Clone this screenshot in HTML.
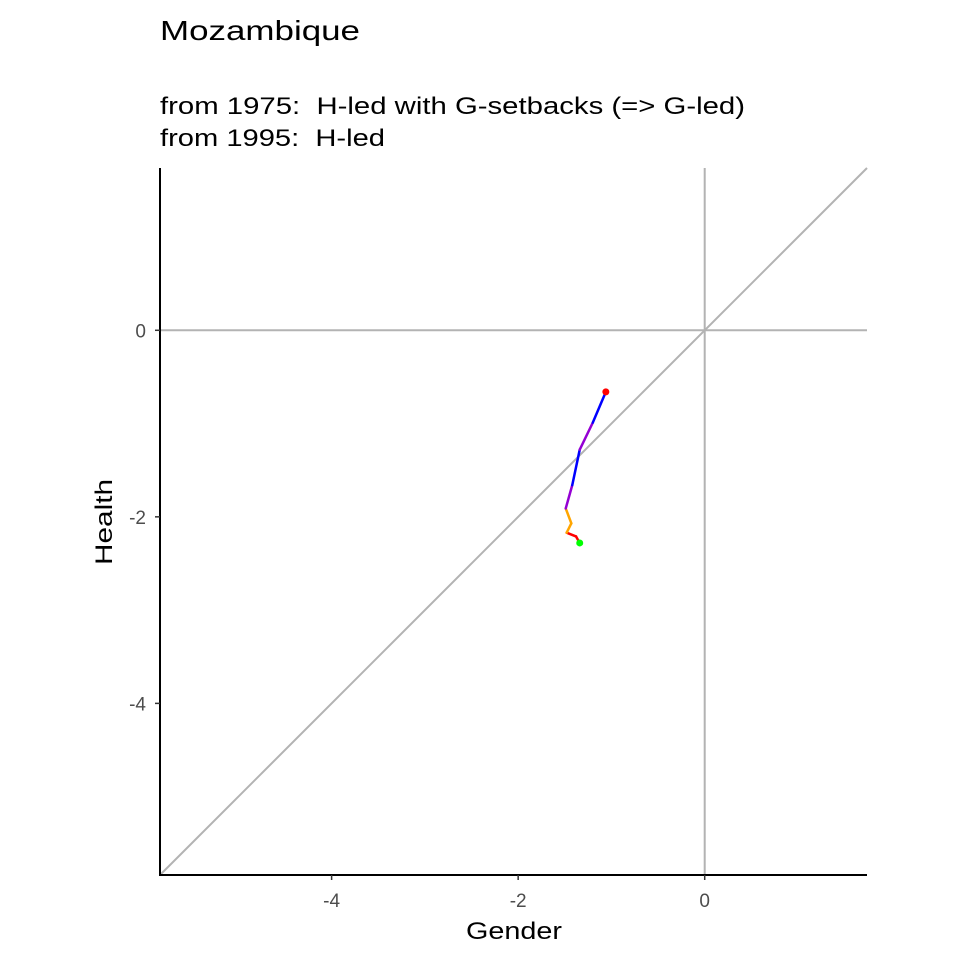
<!DOCTYPE html>
<html><head><meta charset="utf-8"><style>body{margin:0;background:#fff}svg{display:block}text{font-family:"Liberation Sans",Arial,sans-serif;white-space:pre}</style></head>
<body>
<svg id="chart" width="960" height="960">
<rect width="960" height="960" fill="#fff"/>
<text x="160" y="40" font-size="28" fill="#000" textLength="200" lengthAdjust="spacingAndGlyphs">Mozambique</text>
<text x="160" y="114" font-size="24" fill="#000" textLength="585" lengthAdjust="spacingAndGlyphs" xml:space="preserve">from 1975:  H-led with G-setbacks (=&gt; G-led)</text>
<text x="160" y="146" font-size="24" fill="#000" textLength="225" lengthAdjust="spacingAndGlyphs" xml:space="preserve">from 1995:  H-led</text>
<g id="plot"></g>
<text x="514" y="939" font-size="24" text-anchor="middle" textLength="96" lengthAdjust="spacingAndGlyphs">Gender</text>
<text transform="translate(112,522) rotate(-90)" font-size="24" text-anchor="middle" textLength="86" lengthAdjust="spacingAndGlyphs">Health</text>
</svg>
<script>
const gender = [-1.34,-1.38,-1.48,-1.43,-1.49,-1.42,-1.34,-1.20,-1.06];
const health = [-2.28,-2.21,-2.17,-2.07,-1.91,-1.66,-1.28,-0.99,-0.66];
const segColors = ["red","red","orange","orange","#9400d3","blue","#9400d3","blue"];
const xTicks = [-4,-2,0];
const yTicks = [0,-2,-4];
const lim = [-5.84, 1.74];
const L=160,R=867,T=168,B=875;
const sx=v=>L+(v-lim[0])/(lim[1]-lim[0])*(R-L);
const sy=v=>B-(v-lim[0])/(lim[1]-lim[0])*(B-T);
const NS="http://www.w3.org/2000/svg";
const g=document.getElementById('plot');
function mk(t,a){const e=document.createElementNS(NS,t);for(const k in a)e.setAttribute(k,a[k]);g.appendChild(e);return e;}
let e;
e=mk('line',{x1:sx(0),x2:sx(0),y1:T,y2:B,stroke:'#b3b3b3','stroke-width':2});


e=mk('line',{x1:L,x2:R,y1:sy(0),y2:sy(0),stroke:'#b3b3b3','stroke-width':2});


e=mk('line',{x1:sx(lim[0]),y1:sy(lim[0]),x2:sx(lim[1]),y2:sy(lim[1]),stroke:'#b3b3b3','stroke-width':2});


for(let i=0;i<gender.length-1;i++){
 e=mk('line',{x1:sx(gender[i]),y1:sy(health[i]),x2:sx(gender[i+1]),y2:sy(health[i+1]),stroke:segColors[i],'stroke-width':2.5,'stroke-linecap':'round'});
 
 
}
e=mk('circle',{cx:sx(gender[0]),cy:sy(health[0]),r:3.5,fill:'#00ff00'});


e=mk('circle',{cx:sx(gender[gender.length-1]),cy:sy(health[health.length-1]),r:3.5,fill:'red'});


e=mk('path',{d:`M${L} ${T} V${B} H${R}`,fill:'none',stroke:'#000','stroke-width':2});


xTicks.forEach(v=>{
 e=mk('line',{x1:sx(v),x2:sx(v),y1:B,y2:B+5,stroke:'#333','stroke-width':1.5});
 
 
 e=mk('text',{x:sx(v),y:B+32,'font-size':19,fill:'#4d4d4d','text-anchor':'middle'});e.textContent=v;
 
 
});
yTicks.forEach(v=>{
 e=mk('line',{x1:L-5,x2:L,y1:sy(v),y2:sy(v),stroke:'#333','stroke-width':1.5});
 
 
 e=mk('text',{x:L-14,y:sy(v)+7,'font-size':19,fill:'#4d4d4d','text-anchor':'end'});e.textContent=v;
 
 
});
</script>
</body></html>
